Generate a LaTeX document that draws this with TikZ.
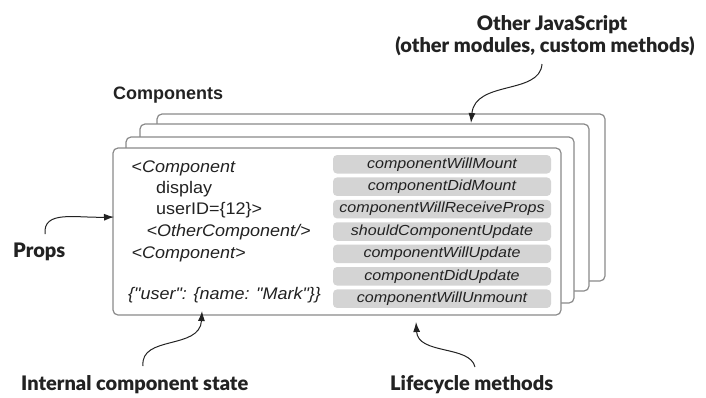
\documentclass[tikz,border=0pt]{standalone}
\usepackage{fontspec}
\setmainfont{Liberation Sans}
\newfontfamily\codefont[FakeStretch=1.07]{Liberation Sans}
\newfontfamily\methfont[FakeStretch=1.1]{Liberation Sans}
\newfontfamily\labfont{Lato Black}
\usetikzlibrary{arrows.meta}
\definecolor{cardline}{HTML}{8A8A8A}
\definecolor{methfill}{HTML}{D4D4D4}
\definecolor{ink}{HTML}{222222}
\tikzset{
  card/.style={draw=cardline, line width=1.2pt, fill=white, rounded corners=5pt},
  methbox/.style={fill=methfill, rounded corners=4pt, minimum width=218pt, minimum height=18.5pt, inner sep=0pt, font=\methfont\fontsize{14.6}{16}\selectfont\itshape, text=ink},
  codetext/.style={anchor=base west, inner sep=0pt, font=\codefont\fontsize{16.8}{18}\selectfont, text=ink},
  bigl/.style={inner sep=0pt, font=\labfont\fontsize{20}{22}\selectfont, text=ink},
  callout/.style={draw=ink, line width=1pt, -{Latex[length=10pt,width=7pt]}}
}
\begin{document}
\begin{tikzpicture}[x=1pt,y=-1pt]
\useasboundingbox (0,0) rectangle (706,397);
% stacked cards
\draw[card] (157,114) rectangle (605,281);
\draw[card] (140,124) rectangle (589,291);
\draw[card] (126,137) rectangle (574,303);
\draw[card] (113,148) rectangle (561,315);
\coordinate (card4top) at (471,123);
\coordinate (cardleft) at (114,217);
% Components label
\node[anchor=base west, inner sep=0pt, font=\bfseries\fontsize{18}{20}\selectfont, text=ink] (comps) at (113,99) {Components};
% code text
\node[codetext] (c1) at (131.5,172) {<\textit{Component}};
\node[codetext] (c2) at (156,193) {display};
\node[codetext] (c3) at (156,214) {userID=\{12\}>};
\node[codetext] (c4) at (146.5,236) {\textit{<OtherComponent/>}};
\node[codetext] (c5) at (131.5,258) {\textit{<Component>}};
\node[codetext] (c6) at (128,299) {\textit{\{"user": \{name: "Mark"\}\}}};
% lifecycle method boxes
\node[methbox] (m1) at (442,164.3) {componentWillMount};
\node[methbox] (m2) at (442,186.7) {componentDidMount};
\node[methbox] (m3) at (442,209.1) {componentWillReceiveProps};
\node[methbox] (m4) at (442,231.5) {shouldComponentUpdate};
\node[methbox] (m5) at (442,253.9) {componentWillUpdate};
\node[methbox] (m6) at (442,276.3) {componentDidUpdate};
\node[methbox] (m7) at (442,298.7) {componentWillUnmount};
% labels
\node[bigl, anchor=base] (other1) at (552,30) {Other JavaScript};
\node[bigl, anchor=base] (other2) at (545,52) {(other modules, custom methods)};
\node[bigl, anchor=base west] (props) at (13,257) {Props};
\node[bigl, anchor=base west] (state) at (21,390) {Internal component state};
\node[bigl, anchor=base west] (life) at (390,390) {Lifecycle methods};
% callout arrows
\coordinate (otherstart) at (542,64);
\coordinate (propsstart) at (45,234);
\coordinate (statestart) at (143,366);
\coordinate (statetip) at (202,311);
\coordinate (lifestart) at (475,367);
\coordinate (lifetip) at (416,322);
\draw[callout] (otherstart) .. controls (540,95) and (475,80) .. (card4top);
\draw[callout] (propsstart) .. controls (43,210) and (75,218) .. (cardleft);
\draw[callout] (statestart) .. controls (140,335) and (200,350) .. (statetip);
\draw[callout] (lifestart) .. controls (470,345) and (418,355) .. (lifetip);
\end{tikzpicture}
\end{document}
